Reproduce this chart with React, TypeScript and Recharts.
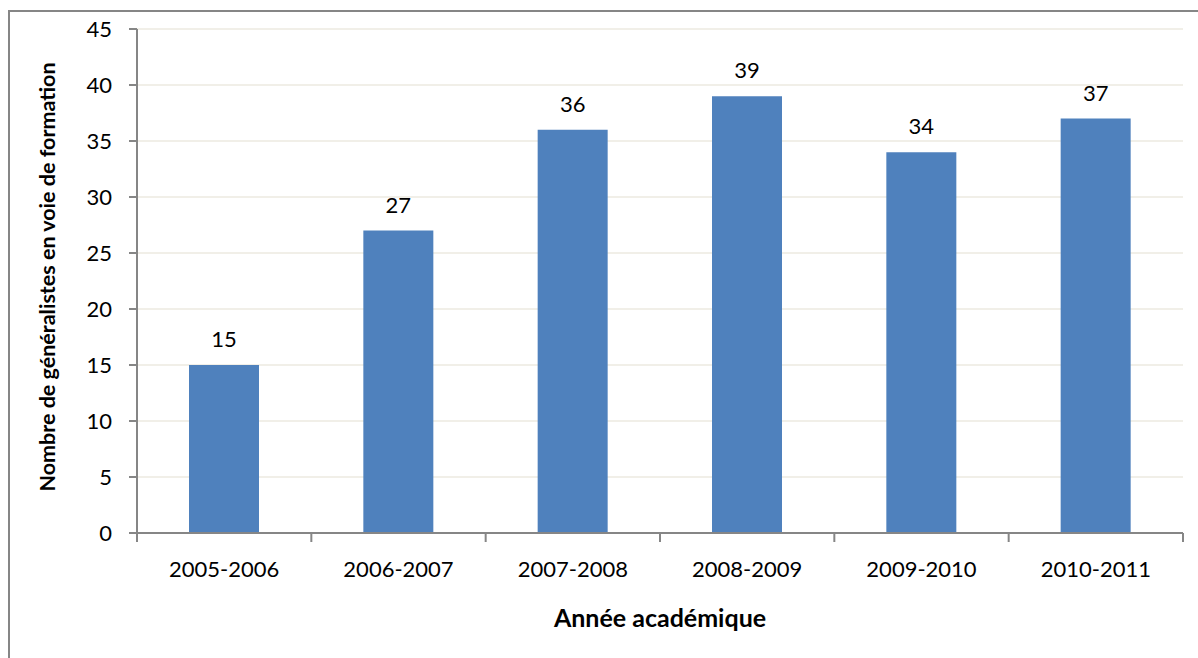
import { BarChart, Bar, XAxis, YAxis, CartesianGrid, LabelList } from 'recharts'

const YEARS = ['2005-2006', '2006-2007', '2007-2008', '2008-2009', '2009-2010', '2010-2011']
const TRAINEES = [15, 27, 36, 39, 34, 37]
const Y_TICKS = [0, 5, 10, 15, 20, 25, 30, 35, 40, 45]

const data = YEARS.map((year, i) => ({ year, count: TRAINEES[i] }))

const W = 1198
const H = 658
const MARGIN = { top: 29, right: 15, left: 0, bottom: 0 }
const Y_AXIS_W = 137
const X_AXIS_H = 125
const BAND = (W - Y_AXIS_W - MARGIN.right) / YEARS.length

const FONT = 'Lato, "Open Sans", sans-serif'
const AXIS_GREY = '#868686'

// labels sit in the middle of each band, tick marks on the band edges
function YearTick(props: any) {
  const { x, y, payload, index } = props
  const half = BAND / 2
  return (
    <g>
      <line x1={x - half} x2={x - half} y1={y} y2={y + 9} stroke={AXIS_GREY} strokeWidth={2} />
      {index === YEARS.length - 1 && (
        <line x1={x + half} x2={x + half} y1={y} y2={y + 9} stroke={AXIS_GREY} strokeWidth={2} />
      )}
      <text x={x} y={y + 44} textAnchor="middle" fill="#000" fontSize={22} fontFamily={FONT}>
        {payload.value}
      </text>
    </g>
  )
}

export default function App() {
  return (
    <div style={{ position: 'relative', width: W, height: H, overflow: 'hidden', background: '#fff' }}>
      <style>{'body{margin:0;overflow:hidden}'}</style>
      <div
        style={{
          position: 'absolute',
          left: 8,
          top: 10,
          width: W + 40,
          height: H + 40,
          border: `2px solid ${AXIS_GREY}`,
          boxSizing: 'border-box',
        }}
      />
      <div style={{ position: 'absolute', left: 0, top: 0 }}>
        <BarChart width={W} height={H} data={data} margin={MARGIN}>
          <CartesianGrid vertical={false} stroke="#ECEAE0" strokeWidth={1.5} />
          <XAxis
            dataKey="year"
            height={X_AXIS_H}
            tickLine={false}
            tickSize={0}
            tickMargin={0}
            axisLine={{ stroke: AXIS_GREY, strokeWidth: 2 }}
            tick={<YearTick />}
            interval={0}
            label={{
              value: 'Année académique',
              position: 'insideBottom',
              offset: 31,
              fill: '#000',
              fontSize: 25,
              fontWeight: 'bold',
              fontFamily: FONT,
            }}
          />
          <YAxis
            width={Y_AXIS_W}
            domain={[0, 45]}
            ticks={Y_TICKS}
            interval={0}
            tickSize={8}
            tickMargin={17}
            axisLine={{ stroke: AXIS_GREY, strokeWidth: 2 }}
            tickLine={{ stroke: AXIS_GREY, strokeWidth: 2 }}
            tick={{ fill: '#000', fontSize: 22, fontFamily: FONT }}
            label={{
              value: 'Nombre de généralistes en voie de formation',
              angle: -90,
              position: 'center',
              dx: -21,
              dy: -4,
              fill: '#000',
              fontSize: 21.5,
              fontWeight: 'bold',
              fontFamily: FONT,
            }}
          />
          <Bar dataKey="count" fill="#4F81BD" barSize={70} isAnimationActive={false}>
            <LabelList dataKey="count" position="top" offset={18} fill="#000" fontSize={22} fontFamily={FONT} />
          </Bar>
        </BarChart>
      </div>
    </div>
  )
}
